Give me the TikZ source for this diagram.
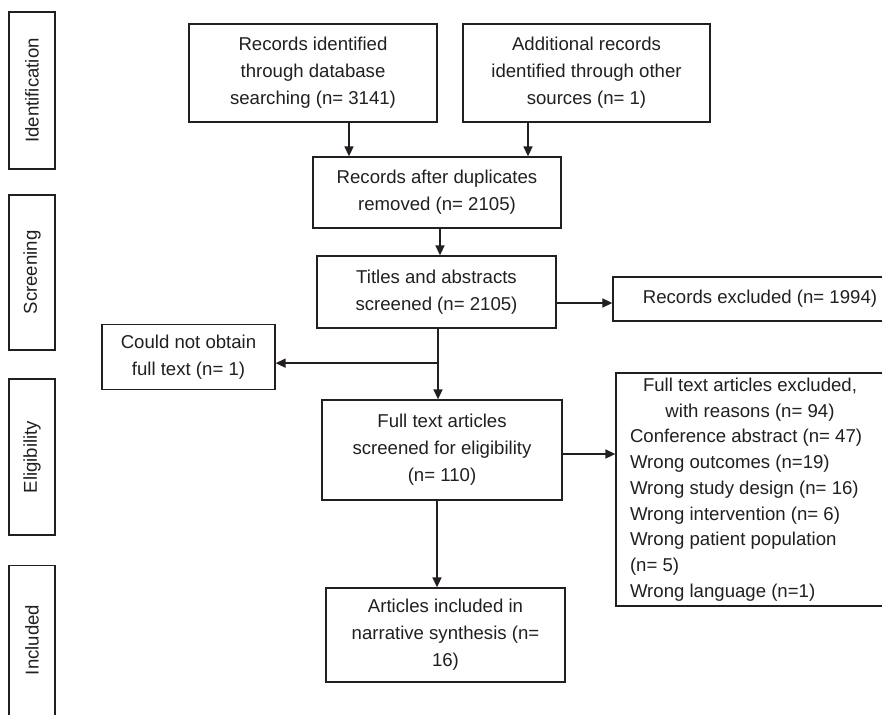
\documentclass[tikz,border=0pt]{standalone}
\usepackage{fontspec}
\setmainfont{Liberation Sans}
\usetikzlibrary{arrows.meta,calc}
\definecolor{ink}{HTML}{231F20}
\begin{document}
\begin{tikzpicture}[x=1pt,y=-1pt,
  every node/.style={text=ink},
  box/.style={draw=ink,line width=1.3pt,rectangle,inner sep=0pt,align=center,
    font=\fontsize{18.6}{27}\selectfont},
  stage/.style={box,rotate=90,minimum height=46pt},
  arr/.style={draw=ink,line width=1.5pt,-{Triangle[length=10pt,width=9pt]}},
  ln/.style={draw=ink,line width=1.5pt}]
\useasboundingbox (0,0) rectangle (882,714);
\clip (0,0) rectangle (882,714);
\fill[white] (0,0) rectangle (882,714);
% stage labels
\node[stage,minimum width=157pt] (sid) at (32,90.5) {Identification};
\node[stage,minimum width=155pt] (ssc) at (32,272.5) {Screening};
\node[stage,minimum width=156pt] (sel) at (32,457) {Eligibility};
\node[stage,minimum width=225pt,anchor=east] (sin) at (32,565) {};
\node[font=\fontsize{18.6}{27}\selectfont,rotate=90] (sinl) at (32,640) {Included};
% main boxes
\node[box,minimum width=248pt,minimum height=98pt] (b1) at (313,73)
  {Records identified\\through database\\searching (n= 3141)};
\node[box,minimum width=247pt,minimum height=98pt] (b2) at (586.5,73)
  {Additional records\\identified through other\\sources (n= 1)};
\node[box,minimum width=248pt,minimum height=71pt] (b3) at (437,192.5)
  {Records after duplicates\\removed (n= 2105)};
\node[box,minimum width=239pt,minimum height=72pt] (b4) at (436.5,292)
  {Titles and abstracts\\screened (n= 2105)};
\node[box,minimum width=294pt,minimum height=44pt] (ex1) at (760,299)
  {Records excluded (n= 1994)};
\node[box,minimum width=173pt,minimum height=65pt] (cno) at (188.5,357)
  {Could not obtain\\full text (n= 1)};
\node[box,minimum width=240pt,minimum height=100pt] (b5) at (442,450)
  {Full text articles\\screened for eligibility\\(n= 110)};
\node[box,minimum width=268pt,minimum height=233pt,text width=240pt,align=none,
  font=\fontsize{18.6}{25.75}\selectfont] (ex2) at (750,489.5)
  {\centering Full text articles excluded,\\ with reasons (n= 94)\par
   \raggedright Conference abstract (n= 47)\\Wrong outcomes (n=19)\\Wrong study design (n= 16)\\Wrong intervention (n= 6)\\Wrong patient population\\(n= 5)\\Wrong language (n=1)\par};
\node[box,minimum width=239pt,minimum height=94pt] (b6) at (445.5,635)
  {Articles included in\\narrative synthesis (n=\\16)};
% connectors
\draw[arr] ([xshift=36pt]b1.south) -- ([xshift=36pt]b1.south |- b3.north);
\draw[arr] ([xshift=-58.5pt]b2.south) -- ([xshift=-58.5pt]b2.south |- b3.north);
\draw[arr] ([xshift=3pt]b3.south) -- ([xshift=3pt]b3.south |- b4.north);
\draw[arr] ([yshift=-11pt]b4.east) -- ([yshift=-11pt]b4.east -| ex1.west);
\coordinate (split) at ([xshift=1.5pt,yshift=-34.5pt]b4.south);
\draw[ln] ([xshift=1.5pt]b4.south) -- (split);
\draw[arr] (split) -- (split -| cno.east);
\draw[arr] (split) -- (split |- b5.north);
\draw[arr] ([yshift=-4pt]b5.east) -- ([yshift=-4pt]b5.east -| ex2.west);
\draw[arr] ([xshift=-5pt]b5.south) -- ([xshift=-5pt]b5.south |- b6.north);
\end{tikzpicture}
\end{document}
